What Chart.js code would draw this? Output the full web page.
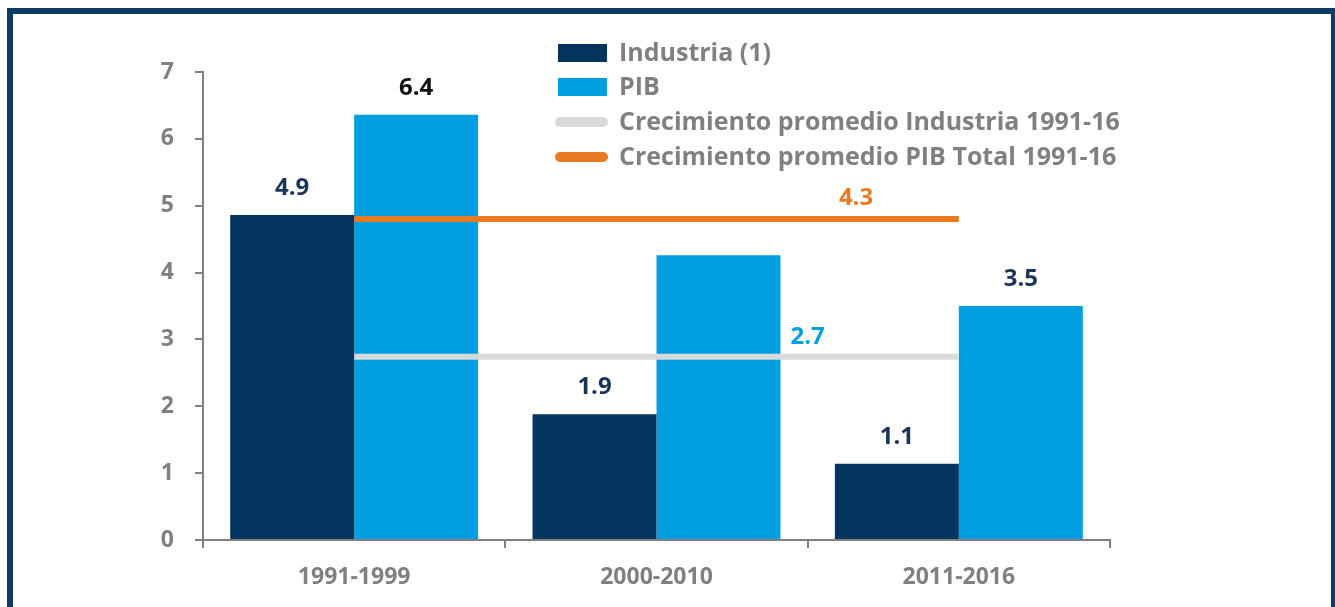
<!DOCTYPE html>
<html>
<head>
<meta charset="utf-8">
<script src="https://cdn.jsdelivr.net/npm/chart.js@4"></script>
<style>
  body { margin: 0; background: #fff; }
  #marco { position: absolute; left: 7px; top: 8px; width: 1318px; height: 620px; border: 6px solid #0c3b66; border-bottom: none; pointer-events: none; }
  #caja { position: absolute; left: 0; top: 0; width: 1335px; height: 607px; }
</style>
</head>
<body>
<div id="caja"><canvas id="grafico" width="1335" height="607"></canvas></div>
<div id="marco"></div>
<script>
// Datos del gráfico
const periodos = ['1991-1999', '2000-2010', '2011-2016']
const industria = [4.86, 1.88, 1.14]
const pib = [6.36, 4.26, 3.5]
const etiquetasIndustria = ['4.9', '1.9', '1.1']
const etiquetasPib = ['6.4', null, '3.5']
const promedioIndustria = [2.74, 2.74, 2.74]
const promedioPib = [4.8, 4.8, 4.8]
const etiquetasPromedio = ['2.7', '4.3']
const posEtiquetasPromedio = [1.5, 1.66] // en unidades de categoria
const ticksY = [0, 1, 2, 3, 4, 5, 6, 7]

const AZUL = '#04355f'
const CELESTE = '#029fe0'
const GRIS_LINEA = '#d9d9d9'
const NARANJA = '#ea7a22'
const GRIS_TEXTO = '#808080'
const FUENTE = '"Open Sans", Lato, sans-serif'

// Etiquetas encima de las barras y de las lineas promedio
const etiquetasPlugin = {
    id: 'etiquetas',
    afterDatasetsDraw(chart) {
        const ctx = chart.ctx
        ctx.save()
        ctx.font = 'bold 24px ' + FUENTE
        ctx.textAlign = 'center'
        ctx.textBaseline = 'middle'
        const barrasInd = chart.getDatasetMeta(0).data
        const barrasPib = chart.getDatasetMeta(1).data
        barrasInd.forEach((b, i) => {
            if (!etiquetasIndustria[i]) return
            ctx.fillStyle = '#1c3557'
            ctx.fillText(etiquetasIndustria[i], b.x, b.y - 27)
        })
        barrasPib.forEach((b, i) => {
            if (!etiquetasPib[i]) return
            ctx.fillStyle = i === 0 ? '#111111' : '#1c3557'
            ctx.fillText(etiquetasPib[i], b.x, b.y - 27)
        })
        const x = chart.scales.x
        const y = chart.scales.y
        ctx.fillStyle = CELESTE
        ctx.fillText(etiquetasPromedio[0], x.getPixelForValue(posEtiquetasPromedio[0]), y.getPixelForValue(promedioIndustria[0]) - 20)
        ctx.fillStyle = NARANJA
        ctx.fillText(etiquetasPromedio[1], x.getPixelForValue(posEtiquetasPromedio[1]), y.getPixelForValue(promedioPib[0]) - 21)
        ctx.restore()
    }
}

// Leyenda dibujada a mano (va dentro del area del grafico)
const leyendaPlugin = {
    id: 'leyenda',
    afterDraw(chart) {
        const ctx = chart.ctx
        const items = chart.data.datasets
        ctx.save()
        ctx.font = 'bold 25px ' + FUENTE
        ctx.textBaseline = 'middle'
        const filas = [53, 87, 122, 157]
        items.forEach((ds, i) => {
            const yy = filas[i]
            if (ds.type === 'line') {
                ctx.strokeStyle = ds.borderColor
                ctx.lineWidth = 10
                ctx.lineCap = 'round'
                ctx.beginPath()
                ctx.moveTo(560, yy)
                ctx.lineTo(603, yy)
                ctx.stroke()
            } else {
                ctx.fillStyle = ds.backgroundColor
                ctx.fillRect(558, yy - 9, 49, 18)
            }
            ctx.fillStyle = GRIS_TEXTO
            ctx.fillText(ds.label, 619, yy + 1)
        })
        ctx.restore()
    }
}

const ctx = document.getElementById('grafico')
new Chart(ctx, {
    type: 'bar',
    data: {
        labels: periodos,
        datasets: [{
            label: 'Industria (1)',
            data: industria,
            backgroundColor: AZUL,
            order: 2
        }, {
            label: 'PIB',
            data: pib,
            backgroundColor: CELESTE,
            order: 2
        }, {
            type: 'line',
            label: 'Crecimiento promedio Industria 1991-16',
            data: promedioIndustria,
            borderColor: GRIS_LINEA,
            borderWidth: 6,
            pointRadius: 0,
            order: 1
        }, {
            type: 'line',
            label: 'Crecimiento promedio PIB Total 1991-16',
            data: promedioPib,
            borderColor: NARANJA,
            borderWidth: 6,
            pointRadius: 0,
            order: 0
        }]
    },
    options: {
        responsive: false,
        animation: false,
        categoryPercentage: 0.82,
        barPercentage: 1,
        layout: { padding: { left: 0, top: 72, right: 225, bottom: 0 } },
        plugins: {
            legend: { display: false },
            tooltip: { enabled: false }
        },
        scales: {
            x: {
                grid: { display: true, drawOnChartArea: false, drawTicks: true, tickLength: 8, color: GRIS_TEXTO, lineWidth: 2, offset: true },
                border: { display: true, color: GRIS_TEXTO, width: 2 },
                ticks: { color: GRIS_TEXTO, font: { family: FUENTE, size: 23, weight: 'bold' }, padding: 16 },
                afterFit(scale) { scale.height = 67 }
            },
            y: {
                min: 0,
                max: 7,
                afterBuildTicks(scale) { scale.ticks = ticksY.map(v => ({ value: v })) },
                grid: { display: true, drawOnChartArea: false, drawTicks: true, tickLength: 8, color: GRIS_TEXTO, lineWidth: 2 },
                border: { display: true, color: GRIS_TEXTO, width: 2 },
                ticks: { color: GRIS_TEXTO, font: { family: FUENTE, size: 23, weight: 'bold' }, padding: 21 },
                afterFit(scale) { scale.width = 203 }
            }
        }
    },
    plugins: [etiquetasPlugin, leyendaPlugin]
});
</script>
</body>
</html>
